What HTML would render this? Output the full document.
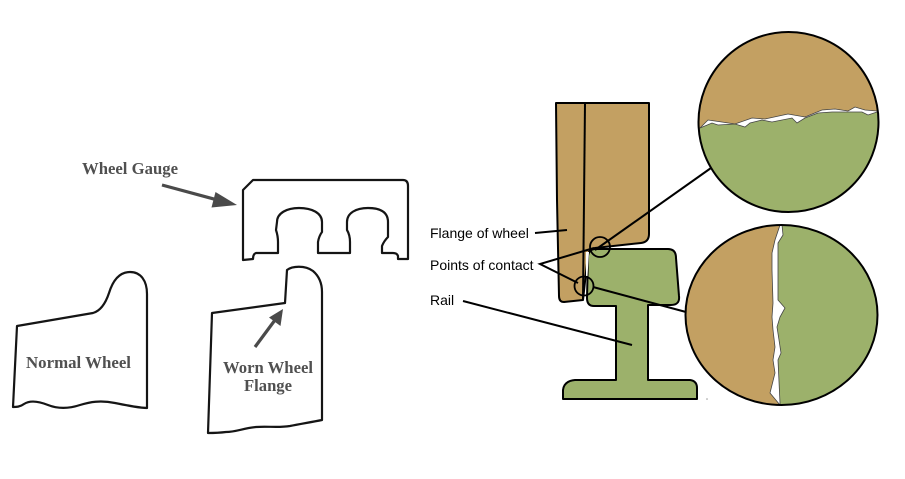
<!DOCTYPE html>
<html>
<head>
<meta charset="utf-8">
<style>
html,body{margin:0;padding:0;background:#fff;}
svg{display:block;}
</style>
</head>
<body>
<svg width="905" height="479" viewBox="0 0 905 479" xmlns="http://www.w3.org/2000/svg">
<rect width="905" height="479" fill="#fff"/>
<defs>
<clipPath id="c1"><circle cx="788.5" cy="122" r="90"/></clipPath>
<clipPath id="c2"><ellipse cx="781.5" cy="315" rx="96" ry="90"/></clipPath>
</defs>

<!-- LEFT: gauge and wheels -->
<g fill="none" stroke="#151515" stroke-width="2.2" stroke-linejoin="round">
<path d="M243,190 L253,180 L403,180 Q408,180 408,186 L408,259 L398,259 L398,256 Q397,253 393,253 L382,253 L382,246 Q384,241 388,237 L388,222 C388,212 380,208 368,208 C356,208 347,213 347,222 L347,230 Q350,235 350,242 L350,253 L318,253 L318,242 Q319,236 322,232 L322,222 C322,213 312,208 299,208 C287,208 277,213 277,222 L276,230 Q278,236 278,242 L278,253 L256,253 Q253,254 253,259 L243,260 Z"/>
<path d="M17,326 L93,313 C100,311 105,305 109,293 C113,280 120,272 130,272 C141,272 147,281 147,294 L147,408 C140,408 130,406 115,403 C100,400 90,402 80,405 C68,409 58,409 48,405 C38,401 30,400 24,404 C20,407 16,407 13,407 Z"/>
<path d="M212,313 L285,303 L287,270 C292,266 305,265 313,271 C320,277 322,284 322,292 L322,420 C312,422 300,424 290,426 C278,428 268,426 256,427 C244,428 236,432 226,432 C218,433 212,433 208,433 Z"/>
</g>
<!-- arrows -->
<g stroke="#4a4a4a" fill="#4a4a4a">
<line x1="162" y1="185" x2="215" y2="199.3" stroke-width="3.2"/>
<polygon points="237,205 211.5,207.5 215.5,192" stroke="none"/>
<line x1="255" y1="347" x2="275" y2="320" stroke-width="3.2"/>
<polygon points="283,309 280.5,326 269,317.5" stroke="none"/>
</g>
<g font-family="'Liberation Serif', serif" font-weight="bold" font-size="16.5" fill="#505050">
<text x="82" y="174" textLength="96" lengthAdjust="spacingAndGlyphs">Wheel Gauge</text>
<text x="26" y="368" textLength="105" lengthAdjust="spacingAndGlyphs">Normal Wheel</text>
<text x="223" y="373" textLength="90" lengthAdjust="spacingAndGlyphs">Worn Wheel</text>
<text x="244" y="391" textLength="48" lengthAdjust="spacingAndGlyphs">Flange</text>
</g>

<!-- RIGHT: wheel and rail -->
<path d="M556,103 L649,103 L649,234 Q649,242 641,243 L595,248 Q590,249 588,254 L583,300 L564,302 Q559,302 559,296 L557,200 Z" fill="#c3a062" stroke="#000" stroke-width="2" stroke-linejoin="round"/>
<line x1="585" y1="103" x2="583" y2="300" stroke="#000" stroke-width="2"/>
<path d="M595,249 L668,249 Q676,249 676,258 L679,296 Q680,305 671,305 L648,305 L648,380 L690,380 Q697,381 697,388 L697,399 L563,399 L563,390 Q564,381 575,380 L616,380 L616,306 L594,306 Q587,306 587,298 L588,256 Q589,249 595,249 Z" fill="#9cb16b" stroke="#000" stroke-width="2" stroke-linejoin="round"/>
<polygon points="586,252 589,252 587.5,276 586,276" fill="#fff"/>
<circle cx="707" cy="399" r="0.8" fill="#999"/>

<!-- small circles -->
<circle cx="600" cy="247" r="10" fill="none" stroke="#000" stroke-width="1.8"/>
<circle cx="584" cy="286" r="9.5" fill="none" stroke="#000" stroke-width="1.8"/>

<!-- leader lines -->
<g stroke="#000" stroke-width="2" fill="none">
<line x1="595" y1="250" x2="711" y2="168"/>
<line x1="593" y1="287" x2="686" y2="312"/>
<line x1="535" y1="233" x2="567" y2="230"/>
<polyline points="594,248 540,264 578,283"/>
<line x1="463" y1="301" x2="632" y2="345"/>
</g>

<g font-family="'Liberation Sans', Arial, sans-serif" font-size="14" fill="#000">
<text x="430" y="238">Flange of wheel</text>
<text x="430" y="270">Points of contact</text>
<text x="430" y="305">Rail</text>
</g>

<!-- top magnified circle -->
<g clip-path="url(#c1)">
<rect x="690" y="25" width="200" height="200" fill="#fff"/>
<polygon fill="#c3a062" stroke="#444" stroke-width="0.8" points="690,20 890,20 890,111 877,111 865,110 855,107 848,111 835,109 822,110 805,117 788,114 765,119 752,118 735,124 715,121 708,120 700,128 690,130"/>
<polygon fill="#9cb16b" stroke="#444" stroke-width="0.8" points="690,230 890,230 890,112 877,112 868,115 862,112 848,112 832,112 818,113 805,118 797,123 792,118 772,122 762,120 750,123 745,127 735,124 718,125 712,123 700,128 690,131"/>
</g>
<circle cx="788.5" cy="122" r="90" fill="none" stroke="#000" stroke-width="2"/>

<!-- bottom magnified circle -->
<g clip-path="url(#c2)">
<rect x="680" y="220" width="205" height="190" fill="#fff"/>
<polygon fill="#c3a062" stroke="#444" stroke-width="0.8" points="680,215 780,215 780,225 775,240 772,253 772,270 773,303 772,317 773,330 775,347 773,360 775,373 770,393 780,405 780,415 680,415"/>
<polygon fill="#9cb16b" stroke="#444" stroke-width="0.8" points="890,215 782,215 782,225 783,235 778,243 778,253 778,270 778,300 785,308 780,317 777,327 781,353 778,360 780,403 780,415 890,415"/>
</g>
<ellipse cx="781.5" cy="315" rx="96" ry="90" fill="none" stroke="#000" stroke-width="2"/>
</svg>
</body>
</html>
